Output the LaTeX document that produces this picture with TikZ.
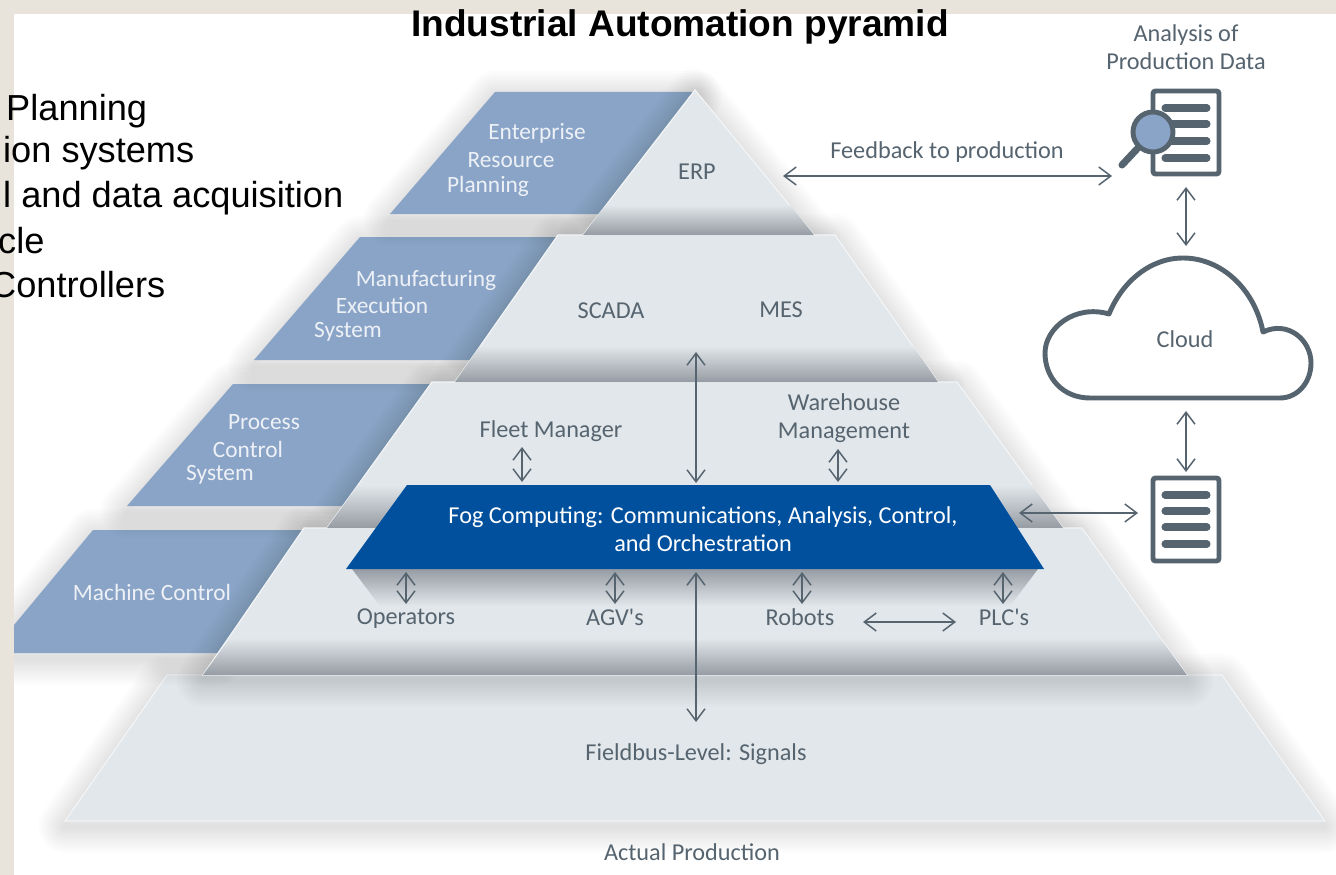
\documentclass[tikz,border=0pt]{standalone}
\usepackage{xcolor}
\usepackage{fontspec}
\setmainfont{Carlito}[Ligatures=TeXOff]
\newfontfamily\slidefont{Liberation Sans}
\usetikzlibrary{arrows.meta}

\definecolor{slideband}{HTML}{E8E4DC}
\definecolor{plate}{HTML}{E2E7EB}
\definecolor{rim}{HTML}{969CA3}
\definecolor{wing}{HTML}{8AA4C8}
\definecolor{fog}{HTML}{00509E}
\definecolor{ink}{HTML}{56646F}

\tikzset{
  plateface/.style={fill=plate, draw=white!55!plate, line width=0.7pt},
  platerim/.style={top color=plate, bottom color=rim},
  wingface/.style={fill=wing},
  softshadow/.style={draw=black, line join=round, opacity=0.011, yshift=-3pt},
  duplex/.style={ink, line width=0.85pt, {Straight Barb[length=2.4mm,width=3.6mm]}-{Straight Barb[length=2.4mm,width=3.6mm]}},
  inklabel/.style={text=ink, font=\fontsize{13.8}{16}\selectfont, align=center},
  winglabel/.style={text=white, text opacity=0.85, font=\fontsize{13.3}{16}\selectfont, align=left},
  slideline/.style={anchor=base west, font=\slidefont\fontsize{20.6}{24}\selectfont},
  iconline/.style={ink, line width=4pt, line cap=round},
  iconframe/.style={draw=ink, line width=2.8pt, rounded corners=1.5pt},
}

% soft shadow behind a closed outline
\newcommand{\softedge}[1]{%
  \foreach \w in {3,6,...,30} {\draw[softshadow, line width=\w pt] #1 -- cycle;}
}

\begin{document}
\begin{tikzpicture}[x=0.02cm, y=-0.02cm]
\useasboundingbox (0,0) rectangle (1336,875);
\fill[white] (0,0) rectangle (1336,875);

% bottom level
\softedge{(167,675) -- (1222,675) -- (1325,821) -- (65,821)}
\draw[plateface] (167,675) -- (1222,675) -- (1325,821) -- (65,821) -- cycle;

% wings
\softedge{(93,530) -- (304,530) -- (218,653) -- (14,653) -- (14,625)}
\fill[wingface] (93,530) -- (304,530) -- (218,653) -- (14,653) -- (14,625) -- cycle;
\softedge{(233,384) -- (430,384) -- (345,506) -- (127,506)}
\fill[wingface] (233,384) -- (430,384) -- (345,506) -- (127,506) -- cycle;
\softedge{(360,237) -- (558,237) -- (470,360) -- (254,360)}
\fill[wingface] (360,237) -- (558,237) -- (470,360) -- (254,360) -- cycle;
\softedge{(495,92) -- (695,92) -- (600,214) -- (390,214)}
\fill[wingface] (495,92) -- (695,92) -- (600,214) -- (390,214) -- cycle;

% pyramid levels
\softedge{(304,528) -- (1082,528) -- (1187,675) -- (203,675)}
\softedge{(432,382) -- (957,382) -- (1063,528) -- (327,528)}
\softedge{(558,235) -- (835,235) -- (938,382) -- (455,382)}
\softedge{(695,90) -- (814,235) -- (583,235)}

\draw[plateface] (304,528) -- (1082,528) -- (1187,675) -- (203,675) -- cycle;
\shade[platerim] (230,638) -- (1160,638) -- (1187,675) -- (203,675) -- cycle;
\draw[plateface] (432,382) -- (957,382) -- (1063,528) -- (327,528) -- cycle;
\shade[platerim] (358,485) -- (1032,485) -- (1063,528) -- (327,528) -- cycle;
\draw[plateface] (558,235) -- (835,235) -- (938,382) -- (455,382) -- cycle;
\shade[platerim] (480,346) -- (913,346) -- (938,382) -- (455,382) -- cycle;
\draw[plateface] (695,90) -- (814,235) -- (583,235) -- cycle;
\shade[platerim] (606,205) -- (790,205) -- (814,235) -- (583,235) -- cycle;

% fog band
\shade[top color=rim, bottom color=plate] (352,569) -- (1038,569) -- (1010,606) -- (380,606) -- cycle;
\fill[fog] (407,485) -- (990,485) -- (1044,569) -- (346,569) -- cycle;

% bands of the slide
\fill[slideband] (0,0) rectangle (1336,14);
\fill[slideband] (0,0) rectangle (14,875);

% texts
\node (title) at (680,27) {\slidefont\bfseries\fontsize{21.1}{24}\selectfont Industrial Automation pyramid};
\node[slideline] (erpline) at (0,121) {Planning};
\node[slideline] (mesline) at (-3,163) {ion systems};
\node[slideline] (scadaline) at (-3,208) {l and data acquisition};
\node[slideline] (cycleline) at (-8,253) {cle};
\node[slideline] (plcline) at (-16,297) {Controllers};

\node[winglabel] (enterprise) at (537,133) {Enterprise};
\node[winglabel] (resource) at (511,160) {Resource};
\node[winglabel] (planning) at (488,186) {Planning};
\node[winglabel] (manufacturing) at (426,280) {Manufacturing};
\node[winglabel] (execution) at (382,306) {Execution};
\node[winglabel] (system) at (348,332) {System};
\node[winglabel] (process) at (264,422) {Process};
\node[winglabel] (control) at (248,449) {Control};
\node[winglabel] (procsystem) at (220,475) {System};
\node[winglabel] (machine) at (152,592) {Machine Control};

\node[inklabel] (analysis) at (1186,47) {Analysis of\\Production Data};
\node[inklabel] (feedback) at (947,152) {Feedback to production};
\node[inklabel] (erp) at (697,172) {ERP};
\node[inklabel] (scada) at (611,311) {SCADA};
\node[inklabel] (mes) at (781,310) {MES};
\node[inklabel] (fleet) at (551,431) {Fleet Manager};
\node[inklabel] (warehouse) at (844,418) {Warehouse\\Management};
\node[inklabel, text=white] (fogtext) at (703,529) {Fog Computing: Communications, Analysis, Control,\\and Orchestration};
\node[inklabel] (operators) at (406,619) {Operators};
\node[inklabel] (agv) at (615,617) {AGV's};
\node[inklabel] (robots) at (800,617) {Robots};
\node[inklabel] (plc) at (1004,617) {PLC's};
\node[inklabel] (fieldbus) at (696,754) {Fieldbus-Level: Signals};
\node[inklabel] (actual) at (692,852) {Actual Production};

% icons
\draw[iconframe, fill=white] (1153,91) rectangle (1219,174);
\foreach \y in {108,124,141,158} {\draw[iconline] (1165,\y) -- (1207,\y);}
\draw[ink, line width=4pt, line cap=round] (1137,149) -- (1122,165);
\draw[draw=ink, line width=2.8pt, fill=wing] (1153,132) circle (20);

\draw[iconframe, fill=white] (1153,478) rectangle (1219,561);
\foreach \y in {495,511,527,544} {\draw[iconline] (1165,\y) -- (1207,\y);}

\draw[draw=ink, line width=2.8pt, fill=white, line join=round]
  (1090,398) .. controls (1063,398) and (1045,378) .. (1045,353)
  .. controls (1045,328) and (1075,304) .. (1109,314)
  .. controls (1122,282) and (1150,258) .. (1183,258)
  .. controls (1222,258) and (1255,290) .. (1263,332)
  .. controls (1288,320) and (1311,340) .. (1311,363)
  .. controls (1311,383) and (1297,398) .. (1280,398) -- cycle;
\node[inklabel] (cloud) at (1185,339) {Cloud};

% connector ends
\coordinate (feedbackA) at (783,176);
\coordinate (feedbackB) at (1112,176);
\coordinate (iconA) at (1186,187);
\coordinate (iconB) at (1186,246);
\coordinate (cloudA) at (1186,411);
\coordinate (cloudB) at (1186,472);
\coordinate (serverA) at (1019,513);
\coordinate (serverB) at (1138,513);
\coordinate (scadaA) at (696,352);
\coordinate (scadaB) at (696,483);
\coordinate (fleetA) at (522,447);
\coordinate (fleetB) at (522,482);
\coordinate (warehouseA) at (838,449);
\coordinate (warehouseB) at (838,482);
\coordinate (operatorsA) at (406,572);
\coordinate (operatorsB) at (406,604);
\coordinate (agvA) at (615,572);
\coordinate (agvB) at (615,604);
\coordinate (robotsA) at (802,572);
\coordinate (robotsB) at (802,604);
\coordinate (plcA) at (1003,572);
\coordinate (plcB) at (1003,604);
\coordinate (fieldA) at (696,572);
\coordinate (fieldB) at (696,722);
\coordinate (linkA) at (863,622);
\coordinate (linkB) at (956,622);

\foreach \a/\b in {feedbackA/feedbackB, iconA/iconB, cloudA/cloudB, serverA/serverB,
  scadaA/scadaB, fleetA/fleetB, warehouseA/warehouseB, operatorsA/operatorsB,
  agvA/agvB, robotsA/robotsB, plcA/plcB, fieldA/fieldB, linkA/linkB} {
  \draw[duplex] (\a) -- (\b);
}

\end{tikzpicture}
\end{document}
